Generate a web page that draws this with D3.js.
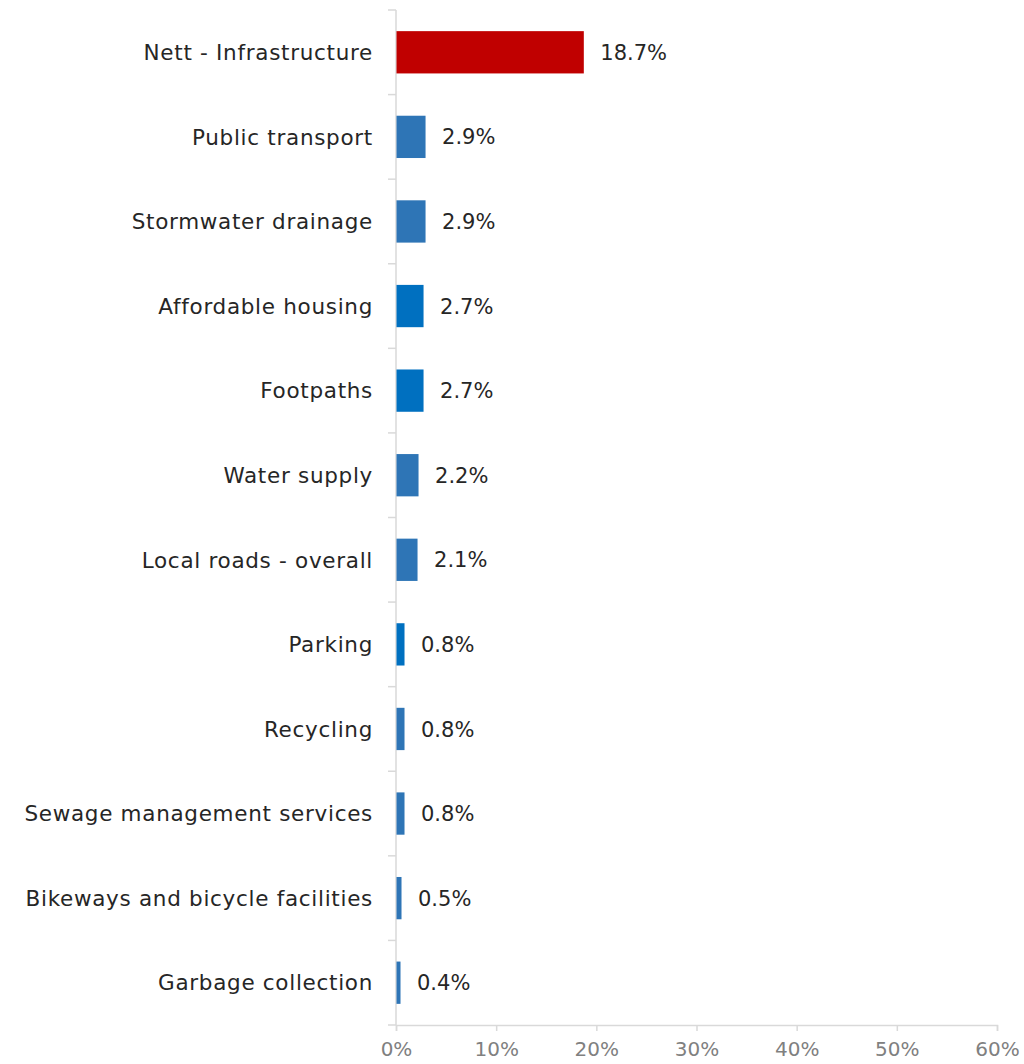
<!DOCTYPE html>
<html>
<head>
<meta charset="utf-8">
<script src="https://cdn.jsdelivr.net/npm/d3@7"></script>
<style>
  html, body { margin: 0; padding: 0; background: #ffffff; }
  svg { display: block; }
</style>
</head>
<body>
<svg id="chart" width="1024" height="1064"></svg>
<script>
// Share of mentions by service area
const categories = [
  "Nett - Infrastructure",
  "Public transport",
  "Stormwater drainage",
  "Affordable housing",
  "Footpaths",
  "Water supply",
  "Local roads - overall",
  "Parking",
  "Recycling",
  "Sewage management services",
  "Bikeways and bicycle facilities",
  "Garbage collection"
];
const values = [18.7, 2.9, 2.9, 2.7, 2.7, 2.2, 2.1, 0.8, 0.8, 0.8, 0.5, 0.4];
const barColors = ["#C00000", "#2E75B6", "#2E75B6", "#0070C0", "#0070C0", "#2E75B6",
                   "#2E75B6", "#0070C0", "#2E75B6", "#2E75B6", "#2E75B6", "#2E75B6"];
const xTicks = [0, 10, 20, 30, 40, 50, 60];

const font = "'DejaVu Sans', sans-serif";
const svg = d3.select("#chart");
const margin = { left: 396, right: 27, top: 10, bottom: 39 };
const width = 1024, height = 1064;

const x = d3.scaleLinear().domain([0, 60]).range([margin.left, width - margin.right]);
const y = d3.scaleBand().domain(categories).range([margin.top, height - margin.bottom]).paddingInner(0.5).paddingOuter(0.25);

// category boundary ticks on the vertical axis
const band = (height - margin.bottom - margin.top) / categories.length;
const bounds = d3.range(categories.length + 1).map(i => margin.top + i * band);

const axisColor = "#D9D9D9";

// vertical axis line and boundary ticks
svg.append("line")
  .attr("x1", x(0)).attr("x2", x(0))
  .attr("y1", margin.top).attr("y2", height - margin.bottom)
  .attr("stroke", axisColor).attr("stroke-width", 1.5);
svg.selectAll(".ytick").data(bounds).join("line")
  .attr("x1", x(0) - 8).attr("x2", x(0))
  .attr("y1", d => d).attr("y2", d => d)
  .attr("stroke", axisColor).attr("stroke-width", 1.5);

// horizontal axis
const xAxis = d3.axisBottom(x).tickValues(xTicks).tickFormat(d => d + "%").tickSize(6).tickPadding(11);
const gx = svg.append("g").attr("transform", `translate(0,${height - margin.bottom})`).call(xAxis);
gx.select(".domain").attr("stroke", axisColor).attr("stroke-width", 1.5);
gx.selectAll(".tick line").attr("stroke", axisColor).attr("stroke-width", 1.5);
gx.selectAll(".tick text")
  .attr("fill", "#808080").attr("font-family", font).attr("font-size", 20);

// bars
svg.selectAll(".bar").data(values).join("rect")
  .attr("x", x(0) + 0.5)
  .attr("y", (d, i) => y(categories[i]))
  .attr("width", d => x(d) - x(0))
  .attr("height", y.bandwidth())
  .attr("fill", (d, i) => barColors[i]);

// value labels
svg.selectAll(".val").data(values).join("text")
  .attr("x", d => x(d) + 17)
  .attr("y", (d, i) => y(categories[i]) + y.bandwidth() / 2)
  .attr("dy", "0.36em")
  .attr("fill", "#262626").attr("font-family", font).attr("font-size", 21)
  .text(d => d.toFixed(1) + "%");

// category labels
svg.selectAll(".cat").data(categories).join("text")
  .attr("x", x(0) - 23)
  .attr("y", d => y(d) + y.bandwidth() / 2)
  .attr("dy", "0.36em")
  .attr("text-anchor", "end")
  .attr("fill", "#262626").attr("font-family", font).attr("font-size", 21.5)
  .attr("letter-spacing", "0.7px")
  .text(d => d);
</script>
</body>
</html>
